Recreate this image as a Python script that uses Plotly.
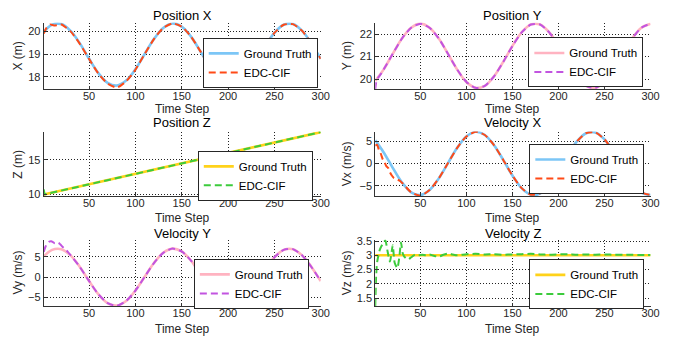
import plotly.graph_objects as go

# ---------------- data ----------------
steps = [1, 10, 20, 30, 40, 50, 60, 70, 80, 90, 100, 110, 120, 130, 140, 150,
         160, 170, 180, 190, 200, 210, 220, 230, 240, 250, 260, 270, 280, 290, 300]

pos_x_gt = [19.98, 20.29, 20.32, 20.02, 19.47, 18.79, 18.16, 17.73, 17.61, 17.83, 18.33,
            19.00, 19.66, 20.15, 20.35, 20.21, 19.77, 19.13, 18.46, 17.91, 17.63, 17.68,
            18.06, 18.66, 19.34, 19.93, 20.29, 20.32, 20.02, 19.47, 18.79]
pos_x_edc_steps = [1, 4, 8, 12, 16, 20, 30, 40, 50, 60, 70, 80, 90, 100, 110, 120, 130,
                   140, 150, 160, 170, 180, 190, 200, 210, 220, 230, 240, 250, 260, 270,
                   280, 290, 300]
pos_x_edc = [19.90, 20.15, 20.30, 20.26, 20.28, 20.30, 20.00, 19.45, 18.78, 18.14, 17.70,
             17.52, 17.80, 18.31, 19.00, 19.66, 20.15, 20.35, 20.21, 19.77, 19.13, 18.46,
             17.91, 17.60, 17.66, 18.06, 18.66, 19.34, 19.93, 20.29, 20.32, 20.02, 19.47,
             18.79]

pos_y_gt = [19.92, 20.42, 21.12, 21.80, 22.28, 22.46, 22.28, 21.80, 21.12, 20.42, 19.87,
            19.61, 19.70, 20.12, 20.76, 21.47, 22.07, 22.42, 22.42, 22.07, 21.47, 20.76,
            20.12, 19.70, 19.61, 19.87, 20.42, 21.12, 21.80, 22.28, 22.46]
pos_y_edc_steps = [1, 2, 4, 7, 10, 20, 30, 40, 50, 60, 70, 80, 90, 100, 110, 120, 130,
                   140, 150, 160, 170, 180, 190, 200, 210, 220, 230, 240, 250, 260, 270,
                   280, 290, 300]
pos_y_edc = [19.55, 19.85, 20.05, 20.22, 20.42, 21.12, 21.80, 22.28, 22.46, 22.28, 21.80,
             21.12, 20.42, 19.87, 19.61, 19.70, 20.12, 20.76, 21.47, 22.07, 22.42, 22.42,
             22.07, 21.47, 20.76, 20.12, 19.70, 19.61, 19.87, 20.42, 21.12, 21.80, 22.28,
             22.46]

pos_z_gt_steps = [1, 300]
pos_z_gt = [10.0, 18.97]
pos_z_edc_steps = [1, 2, 5, 10, 300]
pos_z_edc = [10.75, 10.03, 10.12, 10.27, 18.97]

vel_x_gt = [5.18, 2.53, -0.98, -4.25, -6.46, -7.08, -5.94, -3.34, 0.09, 3.50, 6.04,
            7.09, 6.38, 4.10, 0.80, -2.70, -5.53, -6.99, -6.72, -4.79, -1.68, 1.85,
            4.93, 6.78, 6.96, 5.41, 2.53, -0.98, -4.25, -6.46, -7.08]
vel_edc_steps = [1, 3, 5, 7, 9, 11, 13, 15, 17, 19, 21, 24, 27, 30, 40, 50, 60, 70, 80,
                 90, 100, 110, 120, 130, 140, 150, 160, 170, 180, 190, 200, 210, 220,
                 230, 240, 250, 260, 270, 280, 290, 300]
vel_x_edc = [4.0, 4.2, 3.0, 2.2, 1.0, 0.3, -0.6, -1.0, -2.0, -2.7, -3.2, -3.5, -3.8, -4.3,
             -6.46, -7.25, -5.94, -3.34, 0.09, 3.50, 6.04, 7.09, 6.38, 4.10, 0.80, -2.70,
             -5.53, -6.99, -6.72, -4.79, -1.68, 1.85, 4.93, 6.78, 6.96, 5.41, 2.53, -0.98,
             -4.25, -6.46, -7.08]

vel_y_gt = [5.10, 6.69, 6.86, 5.33, 2.49, -0.97, -4.19, -6.37, -6.98, -5.86, -3.30,
            0.09, 3.45, 5.96, 6.99, 6.29, 4.05, 0.79, -2.66, -5.45, -6.90, -6.63, -4.73,
            -1.66, 1.83, 4.86, 6.69, 6.86, 5.33, 2.49, -0.97]
vel_y_edc = [6.2, 7.5, 8.3, 8.7, 8.8, 8.6, 8.3, 8.5, 8.4, 8.0, 7.5, 6.9, 6.2, 5.4,
             2.49, -0.97, -4.19, -6.37, -7.02, -5.86, -3.30, 0.09, 3.45, 5.96, 6.99, 6.29,
             4.05, 0.79, -2.66, -5.45, -6.95, -6.63, -4.73, -1.66, 1.83, 4.86, 6.69, 6.86,
             5.33, 2.49, -0.97]

vel_z_gt_steps = [1, 300]
vel_z_gt = [3.0, 3.0]
vel_z_edc_steps = [1, 2, 3, 6, 9, 12, 14, 17, 20, 22, 25, 27, 29, 31, 34, 37, 40, 44, 48,
                   52, 56, 60, 65, 70, 75, 80, 85, 90, 100, 110, 120, 130, 140, 150, 160,
                   170, 180, 190, 200, 210, 220, 230, 240, 250, 260, 270, 280, 290, 300]
vel_z_edc = [1.22, 2.3, 2.75, 3.2, 3.4, 3.52, 3.2, 2.78, 3.35, 2.75, 2.55, 2.9, 3.45,
             3.05, 2.9, 2.86, 2.93, 3.02, 3.0, 3.02, 3.0, 3.03, 2.98, 2.95, 3.02, 3.06,
             3.03, 3.0, 3.04, 3.05, 3.03, 3.04, 3.02, 3.03, 3.04, 3.05, 3.03, 3.02, 3.03,
             3.04, 3.02, 3.03, 3.02, 3.03, 3.02, 3.02, 3.02, 3.01, 3.01]

x_ticks = [50, 100, 150, 200, 250, 300]
series_names = ["Ground Truth", "EDC-CIF"]

# ---------------- styling ----------------
W, H = 678, 339
FONT = "Liberation Sans, Arial, sans-serif"
BLUE, ORANGE = "#7cc6f6", "#ff4a17"
PINK, PURPLE = "#ffb3c1", "#c254e0"
GOLD, GREEN = "#ffd21a", "#3ccb3c"

col_px = [(44.3, 325.0), (380.3, 659.3)]
row_px = [(18.0, 86.5), (130.0, 196.5), (241.0, 309.3)]

panels = [
    dict(title="Position X", ytitle="X (m)", gt=(steps, pos_x_gt), edc=(pos_x_edc_steps, pos_x_edc),
         c=(BLUE, ORANGE), yr=[17.45, 20.39], yt=[18, 19, 20], shape="spline", leg=(322, 59.5)),
    dict(title="Position Y", ytitle="Y (m)", gt=(steps, pos_y_gt), edc=(pos_y_edc_steps, pos_y_edc),
         c=(PINK, PURPLE), yr=[19.55, 22.51], yt=[20, 21, 22], shape="spline", leg=(652, 59)),
    dict(title="Position Z", ytitle="Z (m)", gt=(pos_z_gt_steps, pos_z_gt), edc=(pos_z_edc_steps, pos_z_edc),
         c=(GOLD, GREEN), yr=[9.75, 19.05], yt=[10, 15], shape="linear", leg=(317, 175.5)),
    dict(title="Velocity X", ytitle="Vx (m/s)", gt=(steps, vel_x_gt), edc=(vel_edc_steps, vel_x_edc),
         c=(BLUE, ORANGE), yr=[-7.35, 7.15], yt=[-5, 0, 5], shape="spline", leg=(653, 168.5)),
    dict(title="Velocity Y", ytitle="Vy (m/s)", gt=(steps, vel_y_gt), edc=(vel_edc_steps, vel_y_edc),
         c=(PINK, PURPLE), yr=[-7.1, 9.2], yt=[-5, 0, 5], shape="spline", leg=(313, 286.5)),
    dict(title="Velocity Z", ytitle="Vz (m/s)", gt=(vel_z_gt_steps, vel_z_gt), edc=(vel_z_edc_steps, vel_z_edc),
         c=(GOLD, GREEN), yr=[1.22, 3.55], yt=[1.5, 2, 2.5, 3, 3.5], shape="spline", leg=(653, 287)),
]

fig = go.Figure()
annotations = []
layout = dict(width=W, height=H, margin=dict(l=0, r=0, t=0, b=0),
              paper_bgcolor="white", plot_bgcolor="white",
              font=dict(family=FONT, size=11, color="#262626"), showlegend=True)

for i, p in enumerate(panels):
    r, c = divmod(i, 2)
    n = "" if i == 0 else str(i + 1)
    x0, x1 = col_px[c]
    y0, y1 = row_px[r]
    xd = [x0 / W, x1 / W]
    yd = [1 - y1 / H, 1 - y0 / H]
    leg = "legend" + n
    common = dict(showline=True, linecolor="#333333", linewidth=1, mirror=False,
                  showgrid=True, gridcolor="#222222", griddash="1px,2px", gridwidth=1,
                  ticks="inside", ticklen=3, tickcolor="#333333", zeroline=False,
                  tickfont=dict(size=11, family=FONT, color="#262626"))
    layout["xaxis" + n] = dict(domain=xd, range=[1, 300], tickvals=x_ticks,
                               anchor="y" + n, ticklabelstandoff=-3, **common)
    layout["yaxis" + n] = dict(domain=yd, range=p["yr"], tickvals=p["yt"],
                               anchor="x" + n, **common)
    lx, ly = p["leg"]
    layout[leg] = dict(x=lx / W, y=1 - ly / H, xanchor="right", yanchor="middle",
                       xref="paper", yref="paper", bgcolor="white",
                       bordercolor="#262626", borderwidth=1, tracegroupgap=0,
                       font=dict(size=11.5, family=FONT, color="black"))
    gx, gy = p["gt"]
    ex, ey = p["edc"]
    fig.add_trace(go.Scatter(x=gx, y=gy, name=series_names[0], mode="lines",
                             line=dict(color=p["c"][0], width=2.6, shape=p["shape"]),
                             xaxis="x" + n, yaxis="y" + n, legend=leg))
    fig.add_trace(go.Scatter(x=ex, y=ey, name=series_names[1], mode="lines",
                             line=dict(color=p["c"][1], width=2, dash="7px,4px",
                                       shape=p["shape"], smoothing=0.6),
                             xaxis="x" + n, yaxis="y" + n, legend=leg))
    cx = (x0 + x1) / 2 / W
    title_y = [11, 121, 235][r]
    xt_y = [106.5, 219, 333][r]
    annotations.append(dict(text=p["title"], x=cx, y=1 - title_y / H, xref="paper", yref="paper",
                            showarrow=False, xanchor="center", yanchor="middle",
                            font=dict(size=13, family=FONT, color="black")))
    annotations.append(dict(text="Time Step", x=cx, y=1 - xt_y / H, xref="paper", yref="paper",
                            showarrow=False, xanchor="center", yanchor="middle",
                            font=dict(size=12, family=FONT, color="#262626")))
    yt_x = [18, 352][c]
    annotations.append(dict(text=p["ytitle"], x=yt_x / W, y=1 - (y0 + y1) / 2 / H,
                            xref="paper", yref="paper", showarrow=False, textangle=-90,
                            xanchor="center", yanchor="middle",
                            font=dict(size=12, family=FONT, color="#262626")))

layout["annotations"] = annotations
fig.update_layout(**layout)
fig.write_html("out.html", config={"displayModeBar": False},
               post_script="document.body.style.margin='0';document.body.style.padding='0';")
